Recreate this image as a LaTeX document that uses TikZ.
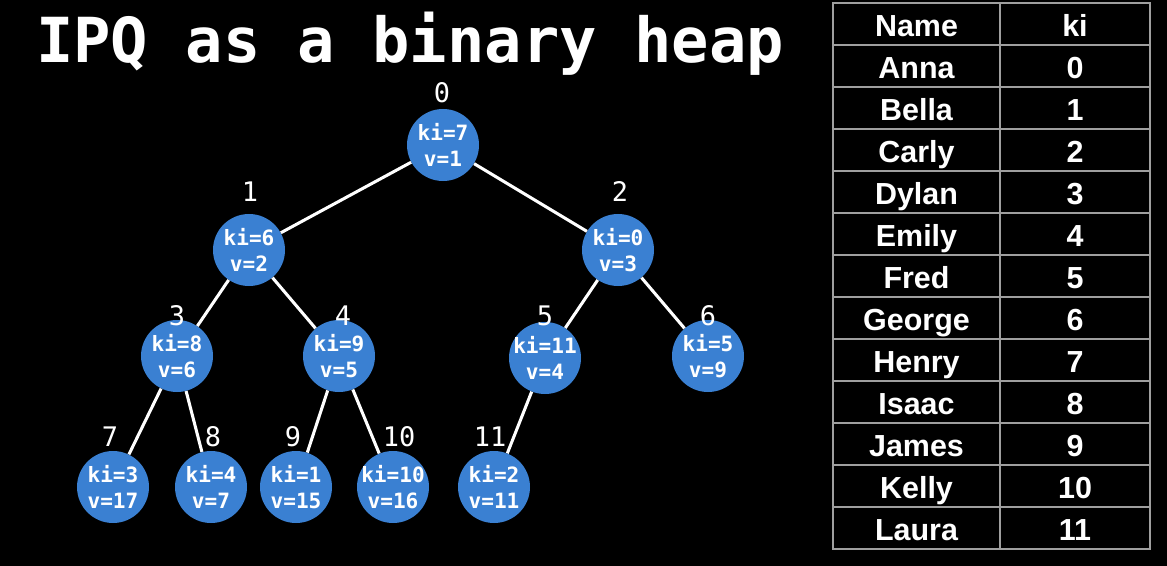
\documentclass[tikz,border=0pt]{standalone}
\usepackage{fontspec}
\setmonofont{DejaVu Sans Mono}
\setsansfont{Liberation Sans}
\usetikzlibrary{positioning}
\definecolor{heapblue}{HTML}{3A80D2}

\begin{document}
\begin{tikzpicture}[
  x=0.03cm, y=-0.03cm,
  heap/.style={circle, fill=heapblue, minimum size=2.16cm, inner sep=-8pt, align=center,
               text=white, font=\ttfamily\bfseries\fontsize{18}{22}\selectfont},
  idx/.style={text=white, font=\ttfamily\fontsize{23}{25}\selectfont},
  link/.style={white, line width=2.6pt},
  cell/.style={draw=gray!75, line width=1.3pt, minimum height=1.26cm, inner sep=0pt,
               text height=23pt, text depth=1pt,
               text=white, font=\sffamily\bfseries\fontsize{26}{28}\selectfont}]
\fill[black] (0,0) rectangle (1167,566);
\useasboundingbox (0,0) rectangle (1167,566);
\node[anchor=base, text=white, font=\ttfamily\bfseries\fontsize{53}{60}\selectfont] (title) at (410,63) {IPQ as a binary heap};
% heap nodes: index/x/y/ki/v
\foreach \n/\x/\y/\k/\v in {0/443/145/7/1, 1/249/250/6/2, 2/618/250/0/3, 3/177/356/8/6,
    4/339/356/9/5, 5/545/358/11/4, 6/708/356/5/9, 7/113/487/3/17, 8/211/487/4/7,
    9/296/487/1/15, 10/393/487/10/16, 11/494/487/2/11}
  \node[heap] (n\n) at (\x,\y) {ki=\k\\v=\v};
% position labels
\foreach \n/\x/\y in {0/442/93, 1/250/192, 2/620/192, 3/177/316, 4/343/316, 5/545/316,
    6/708/316, 7/110/437, 8/213/437, 9/293/437, 10/399/437, 11/490/437}
  \node[idx] (i\n) at (\x,\y) {\n};
\foreach \p/\c in {0/1, 0/2, 1/3, 1/4, 2/5, 2/6, 3/7, 3/8, 4/9, 4/10, 5/11}
  \draw[link] (n\p) -- (n\c);
% name -> ki table
\foreach \name/\ki [count=\r from 0] in {Name/ki, Anna/0, Bella/1, Carly/2, Dylan/3, Emily/4,
    Fred/5, George/6, Henry/7, Isaac/8, James/9, Kelly/10, Laura/11} {
  \node[cell, minimum width=5.01cm] (nm\r) at (916.5,{24+42*\r}) {\name};
  \node[cell, minimum width=4.5cm] (ki\r) at (1075,{24+42*\r}) {\ki};
}
\end{tikzpicture}
\end{document}
